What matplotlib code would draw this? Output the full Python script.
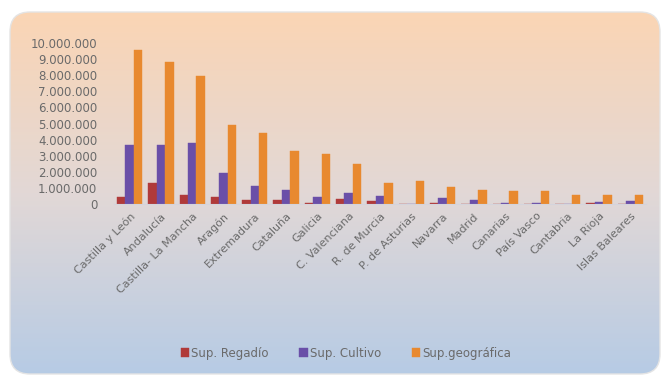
import numpy as np
import matplotlib
matplotlib.use("Agg")
import matplotlib.pyplot as plt
from matplotlib.patches import FancyBboxPatch
from matplotlib.ticker import FuncFormatter

categories = ["Castilla y León", "Andalucía", "Castilla- La Mancha", "Aragón", "Extremadura",
              "Cataluña", "Galicia", "C. Valenciana", "R. de Murcia", "P. de Asturias",
              "Navarra", "Madrid", "Canarias", "País Vasco", "Cantabria", "La Rioja", "Islas Baleares"]
sup_regadio = [450000, 1280000, 560000, 410000, 260000, 270000, 80000, 300000, 180000, 15000,
               90000, 30000, 30000, 12000, 5000, 45000, 20000]
sup_cultivo = [3660000, 3660000, 3800000, 1900000, 1140000, 870000, 450000, 660000, 490000, 30000,
               350000, 220000, 50000, 50000, 30000, 150000, 180000]
sup_geografica = [9560000, 8840000, 7950000, 4900000, 4400000, 3300000, 3100000, 2460000, 1300000, 1400000,
                  1070000, 870000, 800000, 780000, 550000, 550000, 560000]
series_names = ["Sup. Regadío", "Sup. Cultivo", "Sup.geográfica"]
yticks = list(range(0, 10000001, 1000000))

W, H = 668, 381
fig = plt.figure(figsize=(W / 100, H / 100), dpi=100)
fig.patch.set_facecolor("white")

# background gradient with rounded frame
bg = fig.add_axes([0, 0, 1, 1], zorder=-10)
bg.set_xlim(0, W)
bg.set_ylim(H, 0)
bg.axis("off")
top = np.array([251, 213, 180]) / 255
mid = np.array([226, 216, 214]) / 255
bot = np.array([182, 203, 229]) / 255
t = np.linspace(0, 1, 256)[:, None]
grad = np.where(t < 0.5, top + (mid - top) * (t / 0.5), mid + (bot - mid) * ((t - 0.5) / 0.5))
grad = np.repeat(grad[:, None, :], 2, axis=1)
im = bg.imshow(grad, extent=[8, 662, 376, 10], aspect="auto")
frame = FancyBboxPatch((16, 18), 638, 350, boxstyle="round,pad=6,rounding_size=20",
                       facecolor="none", edgecolor="#e4e4e4", lw=1.0, transform=bg.transData)
bg.add_patch(frame)
im.set_clip_path(frame)

ax = fig.add_axes([114 / W, 1 - 204 / H, (646 - 114) / W, (204 - 43) / H])
ax.set_facecolor("none")
x = np.arange(len(categories))
bw = 0.27
colors = ["#b03a3a", "#6a4fa8", "#e8892f"]
for i, (vals, c, name) in enumerate(zip([sup_regadio, sup_cultivo, sup_geografica], colors, series_names)):
    ax.bar(x + (i - 1) * bw, vals, width=bw, color=c, label=name, edgecolor=c, lw=0.3)

ax.set_xlim(-0.5, len(categories) - 0.5)
ax.set_ylim(0, 10000000)
ax.set_yticks(yticks)
ax.yaxis.set_major_formatter(FuncFormatter(lambda v, p: f"{int(v):,}".replace(",", ".")))
ax.set_xticks(x)
ax.set_xticklabels(categories, rotation=45, ha="right", rotation_mode="anchor")
ax.tick_params(axis="both", length=0, colors="#6a6a6a")
ax.tick_params(axis="y", pad=12, labelsize=8.5)
ax.tick_params(axis="x", pad=5, labelsize=8)
for s in ["top", "right", "left"]:
    ax.spines[s].set_visible(False)
ax.spines["bottom"].set_color("#d4d4dc")

fig.legend(loc="center", bbox_to_anchor=(0.518, 1 - 353 / H), ncol=3, frameon=False,
           fontsize=8.5, handlelength=0.7, handleheight=0.7, handletextpad=0.2,
           columnspacing=2.6, labelcolor="#6a6a6a")

fig.savefig("out.png", dpi=100)
